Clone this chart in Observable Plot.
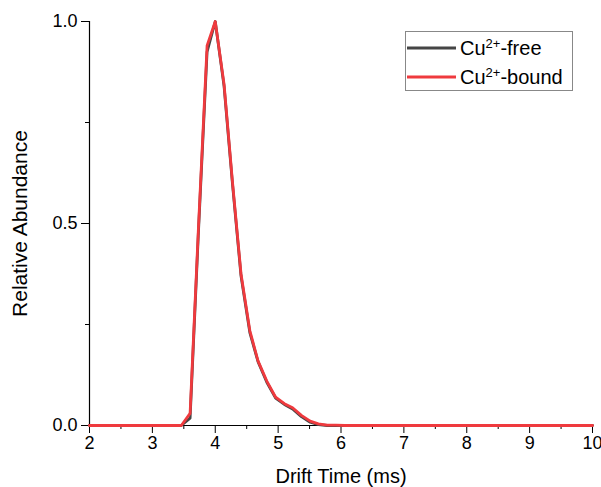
<!DOCTYPE html>
<html>
<head>
<meta charset="utf-8">
<script src="https://cdn.jsdelivr.net/npm/d3@7"></script>
<script src="https://cdn.jsdelivr.net/npm/@observablehq/plot@0.6"></script>
<style>
  html, body { margin: 0; padding: 0; background: #fff; }
  #chart { width: 601px; height: 487px; }
</style>
</head>
<body>
<div id="chart"></div>
<script>
// Drift time (ms)
const driftTime = [2.0, 3.32, 3.46, 3.60, 3.73, 3.87, 4.00, 4.14, 4.27, 4.41, 4.55, 4.68, 4.82, 4.96, 5.10, 5.23, 5.37, 5.51, 5.64, 5.78, 5.92, 6.06, 7.0, 8.0, 9.0, 10.0];
// Relative abundance, Cu2+-free (black)
const freeValues = [0, 0, 0, 0.018, 0.47, 0.925, 1.0, 0.84, 0.605, 0.37, 0.23, 0.158, 0.107, 0.068, 0.052, 0.041, 0.022, 0.008, 0.002, 0.0, 0.0, 0, 0, 0, 0, 0];
// Relative abundance, Cu2+-bound (red)
const boundValues = [0, 0, 0, 0.03, 0.48, 0.94, 1.0, 0.845, 0.61, 0.375, 0.235, 0.16, 0.11, 0.07, 0.054, 0.044, 0.025, 0.011, 0.004, 0.001, 0.001, 0, 0, 0, 0, 0];

const seriesNames = ["Cu²⁺-free", "Cu²⁺-bound"];
const seriesColors = ["#454545", "#ef3a3e"];

const xMajorTicks = [2, 3, 4, 5, 6, 7, 8, 9, 10];
const xMinorTicks = [2.5, 3.5, 4.5, 5.5, 6.5, 7.5, 8.5, 9.5];
const yMajorTicks = [0, 0.5, 1.0];
const yMinorTicks = [0.25, 0.75];

const rows = [];
driftTime.forEach((t, i) => {
  rows.push({t, v: freeValues[i], s: seriesNames[0]});
});
driftTime.forEach((t, i) => {
  rows.push({t, v: boundValues[i], s: seriesNames[1]});
});

const font = "'Liberation Sans', Arial, Helvetica, sans-serif";
const tickFont = 18;

const chart = Plot.plot({
  width: 601,
  height: 487,
  marginLeft: 89,
  marginRight: 9,
  marginTop: 21,
  marginBottom: 62,
  style: { fontFamily: font, fontSize: tickFont + "px", color: "#000", background: "#fff", overflow: "visible" },
  x: { domain: [2, 10] },
  y: { domain: [0, 1] },
  color: { domain: seriesNames, range: seriesColors },
  marks: [
    Plot.axisX({ ticks: xMinorTicks, tickSize: 4, text: null, label: null, stroke: "#000" }),
    Plot.axisX({ ticks: xMajorTicks, tickSize: 8, tickPadding: 3, fontSize: tickFont, tickFormat: d3.format("d"),
      label: "Drift Time (ms)", labelAnchor: "center", labelArrow: "none", labelOffset: 57, stroke: "#000" }),
    Plot.axisY({ ticks: yMinorTicks, tickSize: 4, text: null, label: null, stroke: "#000" }),
    Plot.axisY({ ticks: yMajorTicks, tickSize: 8, tickPadding: 4, fontSize: tickFont, tickFormat: d3.format(".1f"),
      label: "Relative Abundance", labelAnchor: "center", labelArrow: "none", labelOffset: 77, stroke: "#000" }),
    Plot.ruleY([0], { stroke: "#000", strokeWidth: 1.2 }),
    Plot.ruleX([2], { stroke: "#000", strokeWidth: 1.2 }),
    Plot.line(rows, { x: "t", y: "v", z: "s", stroke: "s", strokeWidth: 2.8, strokeLinejoin: "round", curve: "linear" })
  ]
});

document.getElementById("chart").appendChild(chart);

const svg = d3.select(chart);
// force font sizes on every text of the axes
svg.selectAll("g[aria-label]").each(function () {
  const lab = this.getAttribute("aria-label") || "";
  let size = null;
  if (/tick label/.test(lab)) size = tickFont;
  else if (lab === "x-axis label") size = 20;
  else if (lab === "y-axis label") size = 21;
  if (size) {
    d3.select(this).attr("font-size", size).style("font-size", size + "px");
    d3.select(this).selectAll("text").attr("font-size", size).style("font-size", size + "px");
  }
});

// Legend
const legend = svg.append("g").attr("font-family", font).attr("text-anchor", "start");
legend.append("rect").attr("x", 405.5).attr("y", 31.5).attr("width", 167).attr("height", 59)
  .attr("fill", "#fff").attr("stroke", "#888").attr("stroke-width", 1);
const legendItems = [
  { color: seriesColors[0], base: "Cu", sup: "2+", rest: "-free" },
  { color: seriesColors[1], base: "Cu", sup: "2+", rest: "-bound" }
];
legendItems.forEach((it, i) => {
  const cy = 48 + i * 29;
  legend.append("line").attr("x1", 407).attr("x2", 456).attr("y1", cy).attr("y2", cy)
    .attr("stroke", it.color).attr("stroke-width", 2.8);
  const t = legend.append("text").attr("x", 460).attr("y", cy + 7).attr("fill", "#000")
    .attr("text-anchor", "start").style("font-size", "20px");
  t.append("tspan").text(it.base);
  t.append("tspan").attr("dy", -7).style("font-size", "13px").text(it.sup);
  t.append("tspan").attr("dy", 7).text(it.rest);
});
</script>
</body>
</html>
